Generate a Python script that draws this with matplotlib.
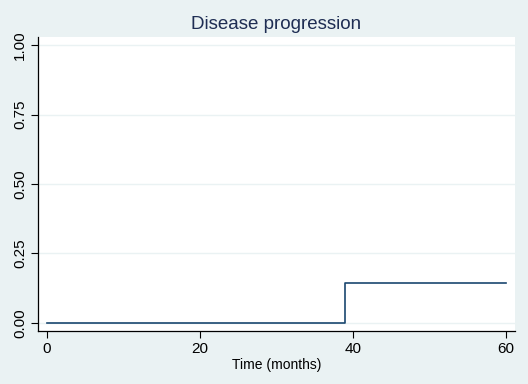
import matplotlib
matplotlib.use("Agg")
import matplotlib.pyplot as plt

# Kaplan-Meier style failure curve
time = [0, 39, 60]
failure = [0.0, 0.1429, 0.1429]
xticks = [0, 20, 40, 60]
yticks = [0.0, 0.25, 0.5, 0.75, 1.0]
ytick_labels = ["0.00", "0.25", "0.50", "0.75", "1.00"]

plt.rcParams["font.family"] = ["Liberation Sans", "DejaVu Sans"]

bg = "#eaf2f3"
fig = plt.figure(figsize=(5.28, 3.84), dpi=100, facecolor=bg)
ax = fig.add_axes([38 / 528, 1 - 331 / 384, (515 - 38) / 528, (331 - 37) / 384])
ax.set_facecolor("white")

ax.step(time, failure, where="post", color="#1a476f", linewidth=1.2, zorder=3)

ax.set_xlim(-1.18, 61.2)
ax.set_ylim(-0.029, 1.029)
ax.set_xticks(xticks)
ax.set_yticks(yticks)
ax.set_yticklabels(ytick_labels, rotation=90, va="center")
ax.grid(axis="y", color="#eaf2f3", linewidth=1)
ax.set_axisbelow(True)

for side in ["top", "right"]:
    ax.spines[side].set_visible(False)
for side in ["left", "bottom"]:
    ax.spines[side].set_color("black")
    ax.spines[side].set_linewidth(0.9)
ax.tick_params(direction="out", length=5, width=0.8, labelsize=11, pad=3)

ax.set_xlabel("Time (months)", fontsize=10, labelpad=1)
ax.set_title("Disease progression", fontsize=13.5, color="#1e2d53", pad=6)

fig.savefig("out.png", dpi=100, facecolor=bg)
